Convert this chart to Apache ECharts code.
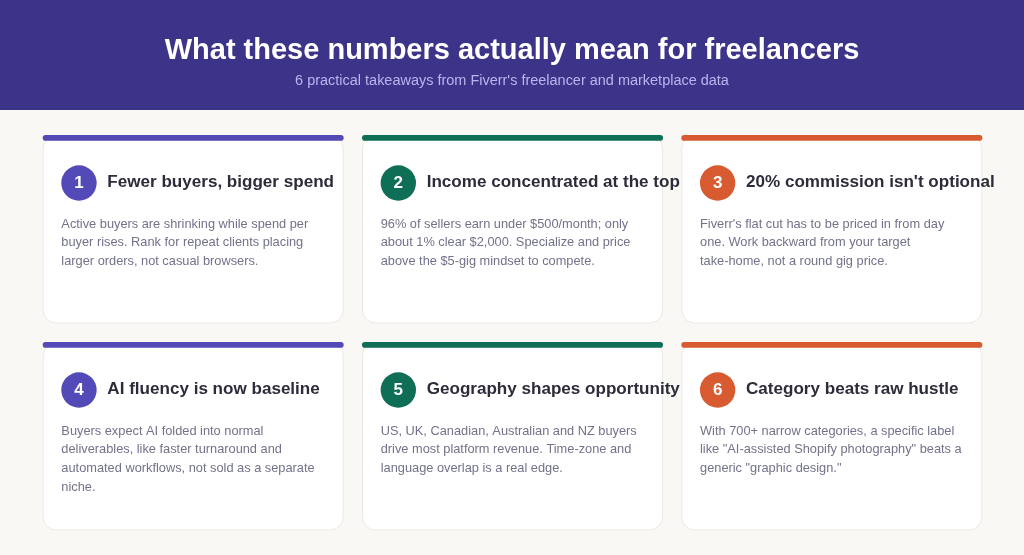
<!DOCTYPE html>
<html>
<head>
<meta charset="utf-8">
<title>What these numbers mean</title>
<script src="https://cdn.jsdelivr.net/npm/echarts@6/dist/echarts.min.js"></script>
<style>
  html, body { margin: 0; padding: 0; background: #faf8f4; }
  #chart { width: 1024px; height: 555px; }
</style>
</head>
<body>
<div id="chart"></div>
<script>
const FONT = '"Liberation Sans", Arial, sans-serif';

const heading = 'What these numbers actually mean for freelancers';
const subheading = "6 practical takeaways from Fiverr's freelancer and marketplace data";

const titles = [
  'Fewer buyers, bigger spend',
  'Income concentrated at the top',
  "20% commission isn't optional",
  'AI fluency is now baseline',
  'Geography shapes opportunity',
  'Category beats raw hustle'
];
const bodies = [
  'Active buyers are shrinking while spend per\nbuyer rises. Rank for repeat clients placing\nlarger orders, not casual browsers.',
  '96% of sellers earn under $500/month; only\nabout 1% clear $2,000. Specialize and price\nabove the $5-gig mindset to compete.',
  "Fiverr's flat cut has to be priced in from day\none. Work backward from your target\ntake-home, not a round gig price.",
  'Buyers expect AI folded into normal\ndeliverables, like faster turnaround and\nautomated workflows, not sold as a separate\nniche.',
  'US, UK, Canadian, Australian and NZ buyers\ndrive most platform revenue. Time-zone and\nlanguage overlap is a real edge.',
  'With 700+ narrow categories, a specific label\nlike "AI-assisted Shopify photography" beats a\ngeneric "graphic design."'
];
const accents = ['#534ab7', '#0f6e56', '#d85a30'];

const chart = echarts.init(document.getElementById('chart'), null, { renderer: 'canvas' });

const cardX = [42.67, 362, 681.33];
const cardY = [135, 342];
const cardW = 301;
const cardH = 188.5;
const barH = 5.7;

const elements = [
  { type: 'rect', shape: { x: 0, y: 0, width: 1024, height: 110 }, style: { fill: '#3c3489' } },
  {
    type: 'text', x: 512, y: 51,
    style: { text: heading, fill: '#ffffff', font: 'bold 29px ' + FONT, textAlign: 'center', textVerticalAlign: 'middle' }
  },
  {
    type: 'text', x: 512, y: 81.3,
    style: { text: subheading, fill: '#b9b5ee', font: '14.47px ' + FONT, textAlign: 'center', textVerticalAlign: 'middle' }
  }
];

titles.forEach((title, i) => {
  const x = cardX[i % 3];
  const y = cardY[Math.floor(i / 3)];
  const color = accents[i % 3];
  elements.push(
    {
      type: 'rect',
      shape: { x: x + 0.5, y: y + 0.5, width: cardW - 1, height: cardH - 1, r: 13 },
      style: { fill: '#ffffff', stroke: '#ebe9e3', lineWidth: 1 }
    },
    {
      type: 'rect',
      shape: { x: x, y: y, width: cardW, height: barH, r: 2.8 },
      style: { fill: color }
    },
    {
      type: 'circle',
      shape: { cx: x + 36.3, cy: y + 48, r: 17.7 },
      style: { fill: color }
    },
    {
      type: 'text', x: x + 36.3, y: y + 48.5,
      style: { text: String(i + 1), fill: '#ffffff', font: 'bold 17px ' + FONT, textAlign: 'center', textVerticalAlign: 'middle' }
    },
    {
      type: 'text', x: x + 64.7, y: y + 47.5,
      style: { text: title, fill: '#2c2c3a', font: 'bold 17.07px ' + FONT, textAlign: 'left', textVerticalAlign: 'middle' }
    },
    {
      type: 'text', x: x + 18.7, y: y + 79.8,
      style: { text: bodies[i], fill: '#72728a', font: '12.8px ' + FONT, lineHeight: 18.7, textAlign: 'left', textVerticalAlign: 'top' }
    }
  );
});

chart.setOption({
  backgroundColor: '#faf8f4',
  animation: false,
  graphic: { elements: elements }
});
window.addEventListener('resize', () => chart.resize());
</script>
</body>
</html>
